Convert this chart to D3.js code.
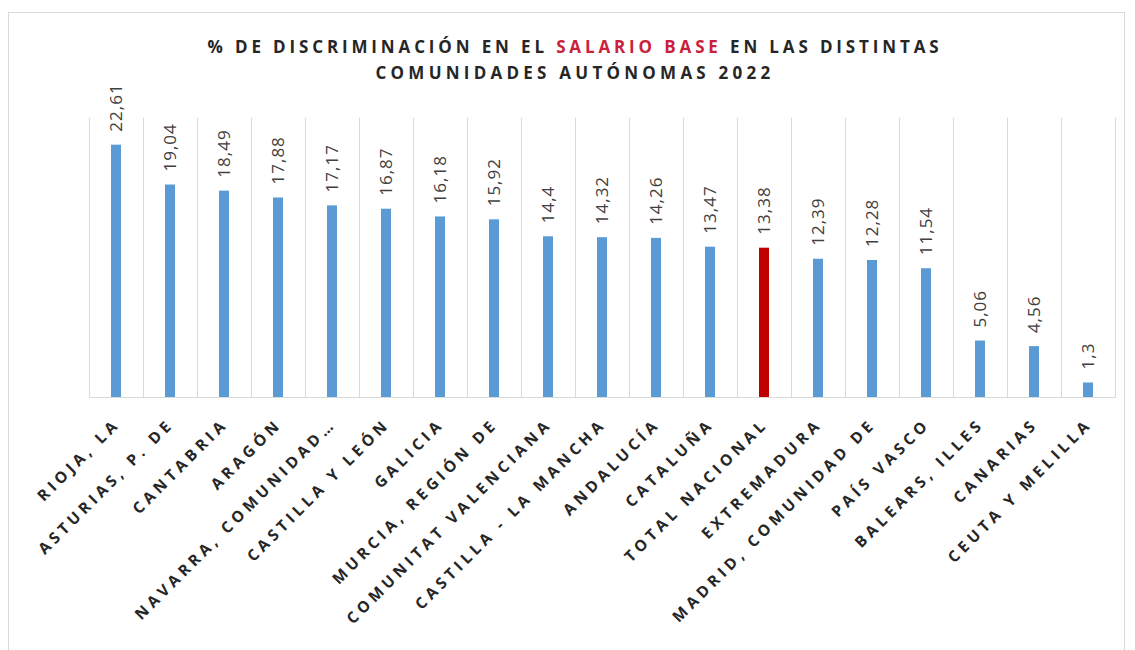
<!DOCTYPE html>
<html><head><meta charset="utf-8">
<script src="https://cdn.jsdelivr.net/npm/d3@7"></script>
<style>body{margin:0;background:#fff}svg{display:block}</style>
</head><body>
<svg id="c" width="1135" height="650"></svg>
<script>
const categories = ["RIOJA, LA","ASTURIAS, P. DE","CANTABRIA","ARAGÓN","NAVARRA, COMUNIDAD…","CASTILLA Y LEÓN","GALICIA","MURCIA, REGIÓN DE","COMUNITAT VALENCIANA","CASTILLA - LA MANCHA","ANDALUCÍA","CATALUÑA","TOTAL NACIONAL","EXTREMADURA","MADRID, COMUNIDAD DE","PAÍS VASCO","BALEARS, ILLES","CANARIAS","CEUTA Y MELILLA"];
const values = [22.61,19.04,18.49,17.88,17.17,16.87,16.18,15.92,14.4,14.32,14.26,13.47,13.38,12.39,12.28,11.54,5.06,4.56,1.3];
const highlight = ["TOTAL NACIONAL"];
const titleLine1 = [["% DE DISCRIMINACIÓN EN EL ",false],["SALARIO BASE",true],[" EN LAS DISTINTAS",false]];
const titleLine2 = "COMUNIDADES AUTÓNOMAS 2022";
const yDomain = [0,25];

const svg = d3.select("#c");
const m = {left:89, right:1115, top:118, bottom:397};

svg.append("rect").attr("x",8.5).attr("y",12.5).attr("width",1116).attr("height",660)
  .attr("fill","#fff").attr("stroke","#d9d9d9");

const x = d3.scaleBand().domain(categories).range([m.left,m.right]).paddingInner(0).paddingOuter(0);
const y = d3.scaleLinear().domain(yDomain).range([m.bottom,m.top]);

const bounds = categories.map(c=>x(c)).concat([m.right]);
svg.append("g").selectAll("line").data(bounds).join("line")
  .attr("x1",d=>Math.round(d)+0.5).attr("x2",d=>Math.round(d)+0.5)
  .attr("y1",y(yDomain[1])).attr("y2",y(0))
  .attr("stroke","#d9d9d9").attr("stroke-width",1);
svg.append("line").attr("x1",m.left).attr("x2",m.right+1).attr("y1",y(0)+0.5).attr("y2",y(0)+0.5)
  .attr("stroke","#d9d9d9");

const bw = 10;
svg.append("g").selectAll("rect").data(categories).join("rect")
  .attr("x",(d)=>x(d)+x.bandwidth()/2-bw/2)
  .attr("width",bw)
  .attr("y",(d,i)=>y(values[i]))
  .attr("height",(d,i)=>y(0)-y(values[i]))
  .attr("fill",d=>highlight.includes(d)?"#c00000":"#5b9bd5");

svg.append("g").selectAll("text").data(categories).join("text")
  .attr("transform",(d,i)=>`translate(${x(d)+x.bandwidth()/2+6},${y(values[i])-13}) rotate(-90)`)
  .attr("text-anchor","start")
  .style("font-family","'Open Sans', sans-serif").style("font-size","17px")
  .style("letter-spacing","1px")
  .attr("fill","#404040")
  .text((d,i)=>String(values[i]).replace(".",","));

const ls = 4.2;
svg.append("g").selectAll("text").data(categories).join("text")
  .attr("transform",d=>`translate(${x(d)+x.bandwidth()/2+2},${428}) rotate(-45)`)
  .attr("text-anchor","end").attr("dx",ls)
  .style("font-family","'Open Sans', sans-serif").style("font-size","15.5px").style("font-weight","bold")
  .style("letter-spacing",ls+"px")
  .attr("fill","#262626")
  .text(d=>d);

function fitLine(t, target){
  const n = t.text().length;
  const w0 = t.node().getComputedTextLength();
  t.style("letter-spacing", ((target - w0)/n)+"px");
}
const t1 = svg.append("text").attr("x",575).attr("y",53).attr("text-anchor","middle")
  .style("font-family","'Open Sans', sans-serif").style("font-size","17px").style("font-weight","bold")
  .attr("fill","#262626");
titleLine1.forEach(([s,red])=>t1.append("tspan").text(s).attr("fill",red?"#c9213b":"#262626"));
fitLine(t1, 735);
const t2 = svg.append("text").attr("x",575).attr("y",79).attr("text-anchor","middle")
  .style("font-family","'Open Sans', sans-serif").style("font-size","17px").style("font-weight","bold")
  .attr("fill","#262626").text(titleLine2);
fitLine(t2, 399);
</script>
</body></html>
